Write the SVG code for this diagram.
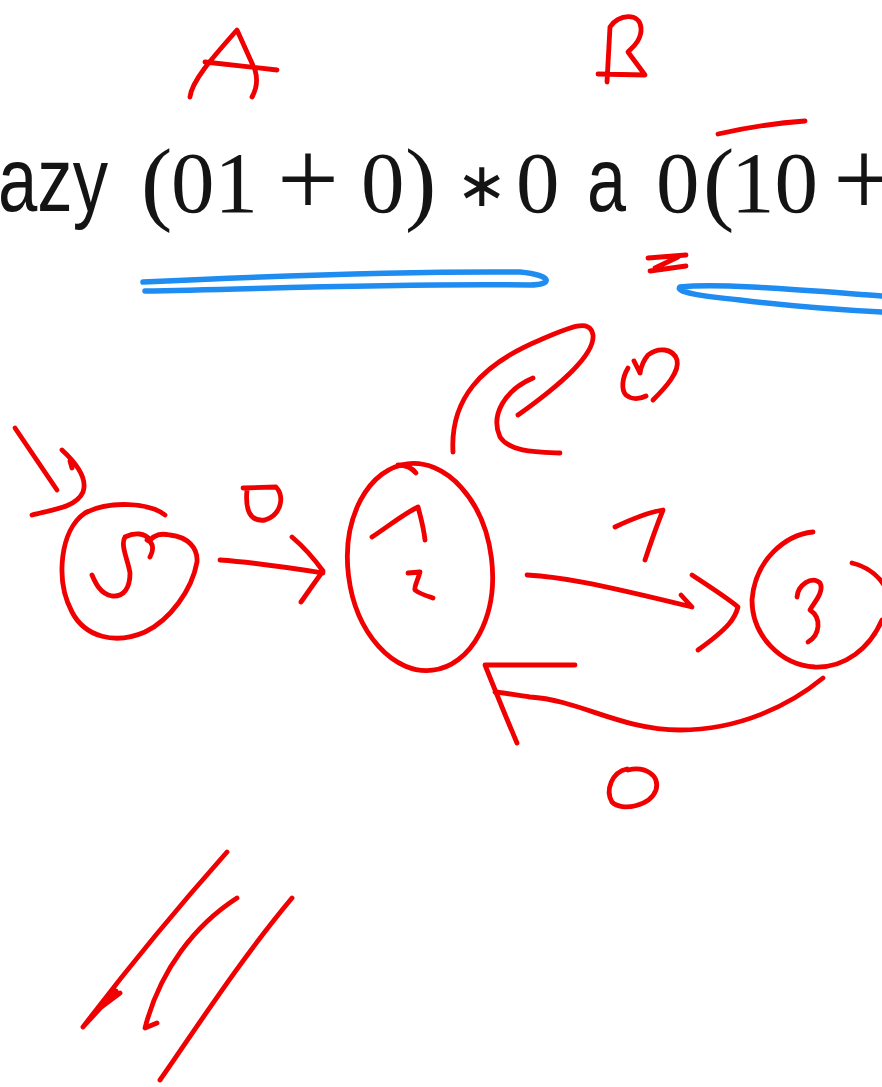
<svg xmlns="http://www.w3.org/2000/svg" width="882" height="1087" viewBox="0 0 882 1087">
<style>
.ink{fill:none;stroke:#f00000;stroke-width:4.8;stroke-linecap:round;stroke-linejoin:round}
.blue{fill:none;stroke:#1e8cf0;stroke-width:5.5;stroke-linecap:round;stroke-linejoin:round}
.serif{font-family:"Liberation Serif","Times New Roman",serif;fill:#141414}
.sans{font-family:"Liberation Sans",Arial,sans-serif;fill:#141414}
</style>
<rect width="882" height="1087" fill="#ffffff"/>
<g id="formula">
<text class="sans" x="-2" y="211" font-size="90" textLength="110" lengthAdjust="spacingAndGlyphs">azy</text>
<text class="serif" font-size="94" y="213"><tspan x="141">(</tspan><tspan x="405">)</tspan><tspan x="703">(</tspan></text>
<text class="serif" font-size="87" y="212"><tspan x="171">01</tspan><tspan x="361">0</tspan><tspan x="516">0</tspan><tspan x="656">0</tspan><tspan x="731">10</tspan></text>
<text class="serif" font-size="110" y="216"><tspan x="277">+</tspan><tspan x="833">+</tspan></text>
<text font-family="DejaVu Sans, sans-serif" font-size="62" x="456" y="206" fill="#141414">∗</text>
<text class="sans" x="587" y="211" font-size="90" textLength="39" lengthAdjust="spacingAndGlyphs">a</text>
</g>
<g id="annotations">
<path class="ink" d="M190,97 C192,80 215,55 237,30 L255,70 C258,80 256,90 252,97 M205,62 L277,70"/>
<path class="ink" d="M607,82 L610,27 C618,14 640,12 641,28 C642,40 632,48 628,52 L645,75 L598,74"/>
<path class="ink" stroke-width="7" d="M718,134 C745,128 775,123 805,121"/>
<path class="ink" stroke-width="6" d="M648,258 L686,255 M650,271 L686,266 M655,268 L678,257"/>
<path class="blue" d="M145,291 C260,289 400,283 530,285 C553,285 553,275 520,272 C400,271 250,277 143,282"/>
<path class="blue" d="M882,296 C800,290 720,283 680,287 C675,292 700,296 740,300 C790,306 840,310 882,312"/>
</g>
<g id="node-S">
<path class="ink" d="M165,515 C150,503 110,500 85,513 C60,530 55,580 72,612 C85,637 115,645 145,632 C170,620 192,590 197,562 C198,548 188,537 170,535 C160,533 155,535 150,540 C145,533 135,532 125,537 C120,545 128,560 130,573 C130,588 124,597 112,596 C100,594 95,582 92,575"/>
<path class="ink" d="M147,540 C152,542 155,547 150,557"/>
</g>
<g id="node-12">
<ellipse class="ink" cx="420" cy="567" rx="72" ry="104" transform="rotate(-7 420 567)"/>
<path class="ink" d="M398,465 C406,465 412,468 416,473"/>
<path class="ink" d="M372,537 C390,525 405,513 418,507 C421,518 424,530 425,540"/>
<path class="ink" d="M408,573 L420,572 C418,580 414,586 415,590 C420,594 427,596 433,598"/>
</g>
<g id="node-3">
<path class="ink" d="M813,532 C785,535 755,560 752,600 C752,635 780,665 815,667 C845,668 870,648 882,620"/>
<path class="ink" d="M852,563 C865,566 876,573 884,585"/>
<path class="ink" d="M797,597 C798,585 812,575 820,583 C825,592 812,605 810,610 C822,618 820,635 808,642"/>
</g>
<g id="connectors">
<path class="ink" d="M15,428 L57,490"/>
<path class="ink" d="M62,450 C75,462 88,478 83,492 C76,508 50,510 32,515 M70,461 L72,468"/>
<path class="ink" d="M220,560 C250,562 285,567 323,573 M292,537 C305,548 315,560 323,571 C315,582 308,592 301,602"/>
<path class="ink" d="M243,488 L276,487 C285,497 281,515 265,520 C250,522 245,510 247,490"/>
<path class="ink" d="M453,452 C450,400 480,365 540,340 C570,327 590,318 593,335 C595,355 560,385 518,415"/>
<path class="ink" d="M533,378 C505,390 490,415 500,437 C510,452 535,452 560,453"/>
<path class="ink" d="M653,400 C665,388 680,372 677,360 C673,348 658,347 648,355 C643,361 641,367 640,373 M634,361 L640,373 M628,368 C622,378 621,390 626,395 C632,400 640,399 646,396"/>
<path class="ink" d="M527,575 C560,577 590,582 692,607 L681,595"/>
<path class="ink" d="M692,575 C715,590 730,600 738,607 C735,618 730,627 698,650"/>
<path class="ink" d="M615,527 C630,520 650,512 663,510 C655,530 650,545 645,560"/>
<path class="ink" d="M823,678 C790,705 740,730 680,730 C620,730 580,700 530,697 C515,695 505,693 495,692"/>
<path class="ink" d="M575,665 L485,665 C495,690 505,715 517,743"/>
<path class="ink" d="M627,769 C612,772 605,790 612,802 C622,812 650,806 656,790 C660,775 645,766 628,770"/>
</g>
<g id="strokes-bottom">
<path class="ink" d="M227,852 C180,905 130,965 83,1027 M83,1027 L116,991 M100,1008 L120,993"/>
<path class="ink" d="M237,898 C195,925 160,970 145,1028 L157,1023"/>
<path class="ink" d="M292,898 C240,960 195,1030 160,1080"/>
</g>
</svg>
